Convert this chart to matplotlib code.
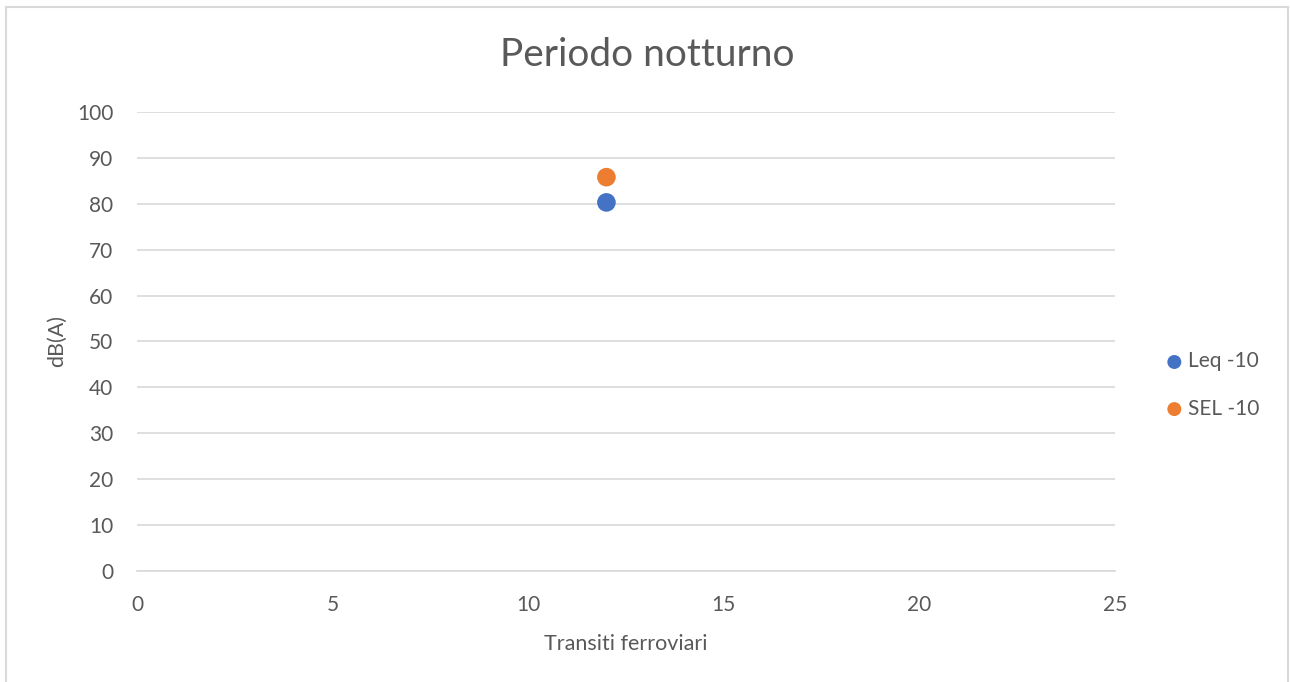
import matplotlib.pyplot as plt
from matplotlib.lines import Line2D

# Dati
serie = ['Leq -10', 'SEL -10']
transiti = [12, 12]
valori_db = [80.3, 85.8]
colori = ['#4472C4', '#ED7D31']

x_ticks = [0, 5, 10, 15, 20, 25]
y_ticks = [0, 10, 20, 30, 40, 50, 60, 70, 80, 90, 100]

plt.rcParams['font.family'] = ['Lato', 'DejaVu Sans']
grigio = '#595959'

fig = plt.figure(figsize=(12.9, 6.82), dpi=100)
ax = fig.add_axes([0.1062, 0.1628, 0.7581, 0.673])

for nome, x, y, c in zip(serie, transiti, valori_db, colori):
    ax.scatter([x], [y], s=180, color=c, label=nome, zorder=3, edgecolors='none')

ax.set_xlim(0, 25)
ax.set_ylim(0, 100)
ax.set_xticks(x_ticks)
ax.set_yticks(y_ticks)
ax.tick_params(length=0, labelsize=15, colors=grigio, pad=17)
ax.grid(axis='y', color='#D9D9D9', linewidth=1.2)
ax.set_axisbelow(True)
for lato in ['top', 'right', 'left']:
    ax.spines[lato].set_visible(False)
ax.spines['bottom'].set_color('#D9D9D9')
ax.spines['bottom'].set_linewidth(1.2)

ax.set_xlabel('Transiti ferroviari', fontsize=15.5, color=grigio, labelpad=14)
ax.set_ylabel('dB(A)', fontsize=15.5, color=grigio, labelpad=7)
fig.text(0.502, 1 - 55 / 682, 'Periodo notturno', fontsize=28, color=grigio,
         ha='center', va='center')

fig.legend(*ax.get_legend_handles_labels(), loc='center left',
           bbox_to_anchor=(1166 / 1290, 1 - 385 / 682), frameon=False,
           fontsize=15, labelcolor=grigio, handlelength=0.8,
           handletextpad=0.25, borderpad=0, borderaxespad=0,
           labelspacing=1.3, markerscale=0.75)

# Bordo del grafico
bordo = dict(color='#D9D9D9', linewidth=1.5, transform=fig.transFigure)
fig.add_artist(Line2D([0.005, 0.005], [0, 0.99], **bordo))
fig.add_artist(Line2D([0.005, 0.9985], [0.99, 0.99], **bordo))
fig.add_artist(Line2D([0.9985, 0.9985], [0, 0.99], **bordo))

fig.savefig('out.png', dpi=100, facecolor='white')
